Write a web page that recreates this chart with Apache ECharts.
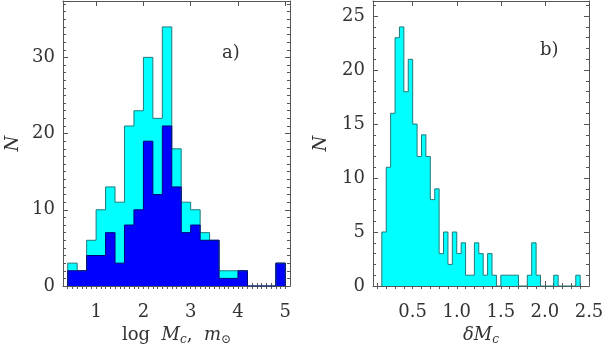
<!DOCTYPE html>
<html>
<head>
<meta charset="utf-8">
<script src="https://cdn.jsdelivr.net/npm/echarts@6/dist/echarts.min.js"></script>
<style>
  html, body { margin: 0; padding: 0; background: #fff; }
  #chart { width: 603px; height: 345px; }
</style>
</head>
<body>
<div id="chart"></div>
<script>
// --- data: panel a (log Mc histogram, bins of 0.2 starting at 0.4) ---
const binStartA = 0.4
const binWidthA = 0.2
const totalA = [3, 2, 6, 10, 13, 11, 21, 23, 30, 22, 34, 18, 11, 10, 7, 6, 2, 2, 2, 0, 0, 0, 3]
const subsetA = [2, 2, 4, 4, 7, 3, 8, 10, 19, 12, 21, 13, 7, 8, 6, 6, 1, 1, 2, 0, 0, 0, 3]

// --- data: panel b (delta Mc histogram, bins of 0.05 starting at 0.15) ---
const binStartB = 0.15
const binWidthB = 0.05
const countsB = [5, 11, 16, 23, 24, 18, 21, 15, 12, 14, 12, 8, 9, 3, 5, 2, 5, 3, 4, 1,
  1, 4, 3, 1, 3, 1, 0, 1, 1, 1, 1, 0, 0, 1, 4, 1, 0, 0, 0, 1, 0, 0, 0, 0, 1]

// --- tick labels ---
const xTicksA = [1, 2, 3, 4, 5]
const yTicksA = [0, 10, 20, 30]
const xTicksB = [0.5, 1.0, 1.5, 2.0, 2.5]
const yTicksB = [0, 5, 10, 15, 20, 25]

const FONT = 'DejaVu Serif'
const TEXT_COLOR = '#333'
const AXIS_COLOR = '#555'

const range = (from, to, step) => {
  const out = []
  for (let v = from; v <= to + 1e-9; v += step) out.push(Math.round(v * 1000) / 1000)
  return out
}

// histogram outline as a step polyline (bars share edges)
const stepPoints = (start, width, counts) => {
  const pts = [[start, 0]]
  counts.forEach((c, i) => {
    const x0 = Math.round((start + i * width) * 1e6) / 1e6
    const x1 = Math.round((start + (i + 1) * width) * 1e6) / 1e6
    pts.push([x0, c], [x1, c])
  })
  pts.push([Math.round((start + counts.length * width) * 1e6) / 1e6, 0])
  return pts
}

// four axes per side pair: main (line + major ticks + labels), minor ticks, mirrored on opposite side
const makeAxes = (dim, gridIndex, min, max, major, minor, fmt, name) => {
  const [pMain, pOpp] = dim === 'x' ? ['bottom', 'top'] : ['left', 'right']
  const base = {
    type: 'value', gridIndex, min, max,
    splitLine: { show: false },
    axisLine: { show: false },
    axisLabel: { show: false },
  }
  const major_ = (position, withLabels) => ({
    ...base,
    position,
    axisLine: { show: true, onZero: false, lineStyle: { color: AXIS_COLOR, width: 1 } },
    axisTick: { show: true, inside: true, length: 5, customValues: major, lineStyle: { color: AXIS_COLOR } },
    axisLabel: withLabels
      ? { show: true, customValues: major, formatter: fmt, fontFamily: FONT, fontSize: 18, color: TEXT_COLOR, margin: dim === 'x' ? 17 : 8 }
      : { show: false },
    name: withLabels ? name.text : '',
    nameLocation: 'middle',
    nameGap: name.gap,
    nameRotate: dim === 'y' ? 90 : 0,
    nameTextStyle: name.style,
  })
  const minor_ = (position) => ({
    ...base,
    position,
    axisTick: { show: true, inside: true, length: 3, customValues: minor, lineStyle: { color: AXIS_COLOR } },
  })
  return [major_(pMain, true), minor_(pMain), major_(pOpp, false), minor_(pOpp)]
}

const nameRich = {
  r: { fontFamily: FONT, fontSize: 18, color: TEXT_COLOR, lineHeight: 22 },
  i: { fontFamily: FONT, fontStyle: 'italic', fontSize: 18, color: TEXT_COLOR, lineHeight: 22 },
  s: { fontFamily: FONT, fontStyle: 'italic', fontSize: 12, color: TEXT_COLOR, lineHeight: 12, verticalAlign: 'bottom' },
}

const xAxes = [
  ...makeAxes('x', 0, 0.3, 5.1, xTicksA, range(0.4, 5.0, 0.1), (v) => `${v}`,
    { text: '{r|log  }{i|M}{s|c}{r|,  }{i|m}{s|⊙}', gap: 35, style: { rich: nameRich } }),
  ...makeAxes('x', 1, 0.05, 2.5, xTicksB, range(0.1, 2.4, 0.1), (v) => v.toFixed(1),
    { text: '{i|δM}{s|c}', gap: 35, style: { rich: nameRich } }),
]
const yAxes = [
  ...makeAxes('y', 0, 0, 37.4, yTicksA, range(1, 37, 1), (v) => `${v}`,
    { text: 'N', gap: 41, style: { fontFamily: FONT, fontStyle: 'italic', fontSize: 18, color: TEXT_COLOR } }),
  ...makeAxes('y', 1, 0, 26.4, yTicksB, range(1, 26, 1), (v) => `${v}`,
    { text: 'N', gap: 43, style: { fontFamily: FONT, fontStyle: 'italic', fontSize: 18, color: TEXT_COLOR } }),
]

const histSeries = (name, axisIdx, pts, fill, edge) => ({
  name,
  type: 'line',
  xAxisIndex: axisIdx,
  yAxisIndex: axisIdx,
  data: pts,
  symbol: 'none',
  lineStyle: { color: edge, width: 1 },
  areaStyle: { color: fill, opacity: 1 },
  silent: true,
})

const chart = echarts.init(document.getElementById('chart'), null, { renderer: 'canvas' })
chart.setOption({
  animation: false,
  backgroundColor: '#fff',
  grid: [
    { left: 63, top: 1, width: 227, height: 285, containLabel: false, outerBoundsMode: 'none' },
    { left: 373, top: 1, width: 216, height: 285, containLabel: false, outerBoundsMode: 'none' },
  ],
  xAxis: xAxes,
  yAxis: yAxes,
  series: [
    histSeries('total', 0, stepPoints(binStartA, binWidthA, totalA), '#00ffff', '#1f7a7a'),
    histSeries('subset', 0, stepPoints(binStartA, binWidthA, subsetA), '#0000ff', '#00007a'),
    histSeries('delta', 4, stepPoints(binStartB, binWidthB, countsB), '#00ffff', '#1f7a7a'),
  ],
  graphic: [
    { type: 'text', left: 222, top: 44, style: { text: 'a)', font: `18px "${FONT}"`, fill: TEXT_COLOR } },
    { type: 'text', left: 540, top: 41, style: { text: 'b)', font: `18px "${FONT}"`, fill: TEXT_COLOR } },
  ],
})
</script>
</body>
</html>
